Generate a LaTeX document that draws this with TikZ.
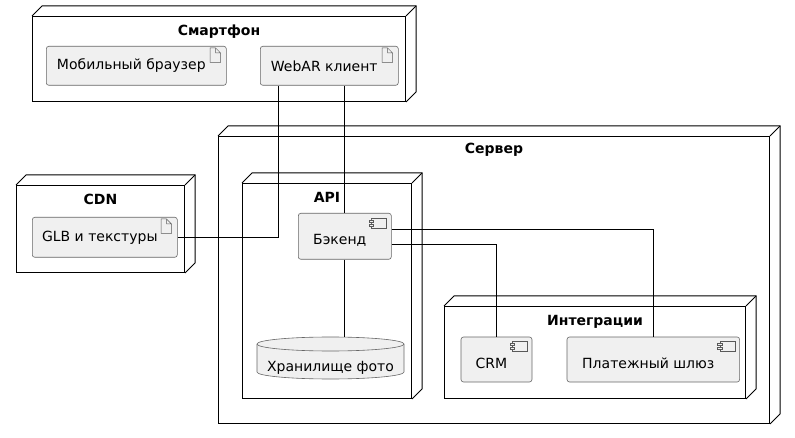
\documentclass[tikz,border=0pt]{standalone}
\usepackage{fontspec}
\setmainfont{DejaVu Sans}
\tikzset{
	dnode/.style={draw,line width=1pt,inner sep=0pt,anchor=north west},
	ttl/.style={anchor=north,inner sep=0pt,yshift=-9pt,font=\fontsize{14}{17}\selectfont\bfseries},
	box/.style={draw=black!60,line width=0.6pt,fill=black!6,rounded corners=2.5pt,anchor=north west,inner sep=0pt,font=\fontsize{14}{17}\selectfont},
	art/.style={box,execute at begin node={\hspace*{-10pt}}},
	comp/.style={box,text height=20pt,text depth=3pt,execute at begin node={\hspace*{-10pt}}},
	icon/.style={black!65,line width=0.5pt},
	link/.style={line width=1pt}
}
\newcommand{\nodeback}[1]{%
	\draw[line width=1pt] (#1.north west) -- ++(10,-10) -- ([shift={(10,-10)}]#1.north east) -- ([shift={(10,-10)}]#1.south east) -- (#1.south east);
	\draw[line width=1pt] (#1.north east) -- ++(10,-10);}
\newcommand{\arti}[1]{%
	\draw[icon,shift={(#1.north east)}] (-16.5,2) -- (-11,2) -- (-6,7) -- (-6,16.5) -- (-16.5,16.5) -- cycle (-11,2) -- (-11,7) -- (-6,7);}
\newcommand{\compi}[1]{%
	\draw[icon,shift={(#1.north east)}] (-20,5) rectangle (-5,15);
	\filldraw[icon,fill=black!6,shift={(#1.north east)}] (-22.5,7) rectangle (-18,9) (-22.5,11) rectangle (-18,13);}

\begin{document}
\begin{tikzpicture}[x=1pt,y=-1pt]
	\useasboundingbox (0,0) rectangle (795,438);

	% Смартфон
	\node [dnode,minimum width=373pt,minimum height=85pt] (smart) at (32,16) {};
	\nodeback{smart}
	\node [ttl] (smarttitle) at (smart.north) {Смартфон};
	\node [art,minimum width=180pt,minimum height=39pt] (browser) at (46,46) {Мобильный браузер};
	\arti{browser}
	\node [art,minimum width=138pt,minimum height=39pt] (webar) at (260,46) {WebAR клиент};
	\arti{webar}

	% CDN
	\node [dnode,minimum width=168pt,minimum height=87pt] (cdn) at (16,185) {};
	\nodeback{cdn}
	\node [ttl] (cdntitle) at (cdn.north) {CDN};
	\node [art,minimum width=145pt,minimum height=40pt] (glb) at (32,217) {GLB и текстуры};
	\arti{glb}

	% Сервер
	\node [dnode,minimum width=551pt,minimum height=287pt] (server) at (218,136) {};
	\nodeback{server}
	\node [ttl,yshift=2pt] (servertitle) at (server.north) {Сервер};

	\node [dnode,minimum width=169pt,minimum height=215pt] (api) at (242,183) {};
	\nodeback{api}
	\node [ttl] (apititle) at (api.north) {API};
	\node [comp,minimum width=93pt,minimum height=46pt] (backend) at (298,213) {Бэкенд};
	\compi{backend}

	\draw [draw=black!60,line width=0.6pt,fill=black!6] (257,344) -- (257,372)
		arc [start angle=180,end angle=360,x radius=73.5pt,y radius=7pt] -- (404,344)
		arc [start angle=0,end angle=180,x radius=73.5pt,y radius=7pt] -- cycle;
	\draw [draw=black!60,line width=0.6pt] (257,344) arc [start angle=180,end angle=360,x radius=73.5pt,y radius=7pt];
	\coordinate (dbtop) at (330.5,337);
	\node [font=\fontsize{14}{17}\selectfont,inner sep=0pt] (db) at (330.5,368) {Хранилище фото};

	\node [dnode,minimum width=301pt,minimum height=92pt] (integr) at (444,306) {};
	\nodeback{integr}
	\node [ttl] (integrtitle) at (integr.north) {Интеграции};
	\node [comp,minimum width=71pt,minimum height=45pt] (crm) at (460.7,336.7) {CRM};
	\compi{crm}
	\node [comp,minimum width=172.6pt,minimum height=45pt] (pay) at (566.7,336.7) {Платежный шлюз};
	\compi{pay}

	% связи
	\draw [link] (glb.east) -| ([xshift=18pt]webar.south west);
	\draw [link] (webar.south -| backend.north) -- (backend.north);
	\draw [link] (backend.south) -- (backend.south |- dbtop);
	\draw [link] ([yshift=7pt]backend.east) -| (pay.north);
	\draw [link] ([yshift=-8pt]backend.east) -| (crm.north);
\end{tikzpicture}
\end{document}
